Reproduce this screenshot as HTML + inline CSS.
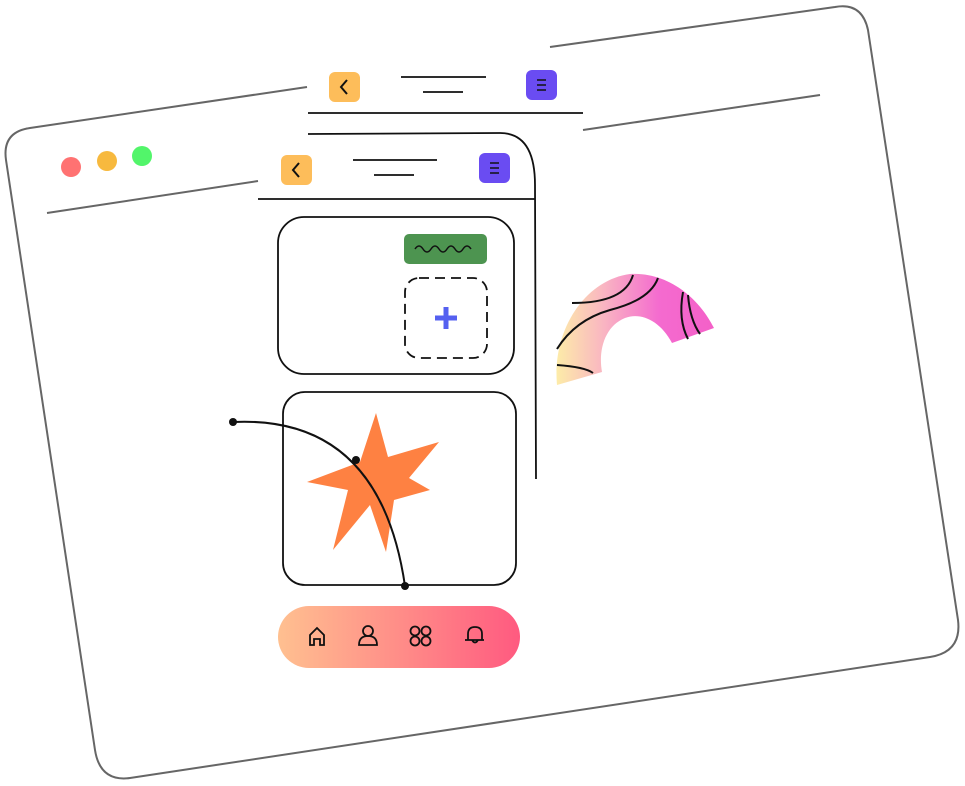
<!DOCTYPE html>
<html><head><meta charset="utf-8"><style>html,body{margin:0;padding:0;background:#fff}svg{display:block}</style></head><body>
<svg width="965" height="786" viewBox="0 0 965 786" xmlns="http://www.w3.org/2000/svg">
<defs>
<linearGradient id="rb" x1="0" x2="1" y1="0" y2="0"><stop offset="0" stop-color="#fdeca8"/><stop offset="0.3" stop-color="#f9b5c2"/><stop offset="0.65" stop-color="#f46bcf"/><stop offset="1" stop-color="#f460c8"/></linearGradient>
<linearGradient id="nav" x1="0" x2="1"><stop offset="0" stop-color="#ffc090"/><stop offset="1" stop-color="#ff5a80"/></linearGradient>
</defs>
<g fill="none" stroke="#666" stroke-width="2">
<path d="M307,87 L30,128 Q2,132 6,160 L95,750 Q100,782 130,778 L930,657 Q962,652 958,620 L868,30 Q862,2 835,7 L550,47"/>
<line x1="47" y1="213" x2="258" y2="181"/>
<line x1="583" y1="130" x2="820" y2="95"/>
</g>
<circle cx="71" cy="167" r="10" fill="#ff7272"/>
<circle cx="107" cy="161" r="10" fill="#f7b93e"/>
<circle cx="142" cy="156" r="10" fill="#52f56a"/>
<g stroke="#111" stroke-width="1.8" fill="none">
<line x1="308" y1="113" x2="583" y2="113"/>
<line x1="401" y1="77" x2="486" y2="77"/>
<line x1="423" y1="92" x2="463" y2="92"/>
<path d="M308,134 L500,133 Q535,133 535,185 L536,479"/>
<line x1="258" y1="199" x2="535" y2="199"/>
<line x1="353" y1="160" x2="437" y2="160"/>
<line x1="374" y1="175" x2="414" y2="175"/>
<rect x="278" y="217" width="236" height="157" rx="26"/>
<rect x="283" y="392" width="233" height="193" rx="22"/>
</g>
<rect x="329" y="72" width="31" height="30" rx="6" fill="#fdbd5a"/>
<path d="M347,80 L341,87 L347,94" stroke="#111" stroke-width="2" fill="none"/>
<rect x="526" y="70" width="31" height="30" rx="6" fill="#6a4cf2"/>
<path d="M537,80h9M537,85h9M537,90h9" stroke="#111" stroke-width="1.5"/>
<rect x="281" y="155" width="31" height="30" rx="6" fill="#fdbd5a"/>
<path d="M299,163 L293,170 L299,177" stroke="#111" stroke-width="2" fill="none"/>
<rect x="479" y="153" width="31" height="30" rx="6" fill="#6a4cf2"/>
<path d="M490,163h9M490,168h9M490,173h9" stroke="#111" stroke-width="1.5"/>
<rect x="404" y="234" width="83" height="30" rx="5" fill="#4d9450"/>
<path d="M415,249 q4,-6 8,0 t8,0 t8,0 t8,0 t8,0 t8,0 t8,0" stroke="#111" stroke-width="1.5" fill="none"/>
<rect x="405" y="278" width="82" height="80" rx="14" fill="none" stroke="#111" stroke-width="1.8" stroke-dasharray="10,6"/>
<path d="M446,307v22M435,318h22" stroke="#5560f0" stroke-width="5"/>
<polygon points="376,413 388,457 439,442 409,478 430,490 394,500 386,552 370,505 333,550 348,490 307,482 360,462" fill="#fe8142"/>
<path d="M233,422 Q380,415 405,586" stroke="#111" stroke-width="2" fill="none"/>
<circle cx="233" cy="422" r="4" fill="#111"/><circle cx="356" cy="460" r="4" fill="#111"/><circle cx="405" cy="586" r="4" fill="#111"/>
<path d="M557,385 C552,330 585,280 630,274 C670,272 700,300 714,328 L672,343 C660,320 640,312 625,318 C605,326 598,350 602,372 Z" fill="url(#rb)"/>
<g stroke="#111" stroke-width="2" fill="none">
<path d="M572,303 Q625,303 633,275"/>
<path d="M557,349 Q575,320 610,310 Q650,300 658,278"/>
<path d="M557,365 Q585,367 593,373"/>
<path d="M683,292 Q678,320 688,339"/>
<path d="M688,295 Q690,320 700,334"/>
</g>
<rect x="278" y="606" width="242" height="62" rx="31" fill="url(#nav)"/>
<g stroke="#111" stroke-width="1.8" fill="none">
<path d="M310,645 v-10 l7,-7 l7,7 v10 h-4 v-6 h-6 v6 z"/>
<circle cx="368" cy="631" r="5"/><path d="M359,645 q0,-9 9,-9 q9,0 9,9 z"/>
<circle cx="415" cy="631" r="4.5"/><circle cx="426" cy="631" r="4.5"/><circle cx="415" cy="641" r="4.5"/><circle cx="426" cy="641" r="4.5"/>
<path d="M468,640 v-6 q0,-7 7,-7 q7,0 7,7 v6 z M465,640 h19 M472,640 q3,5 6,0"/>
</g>
</svg>
</body></html>
